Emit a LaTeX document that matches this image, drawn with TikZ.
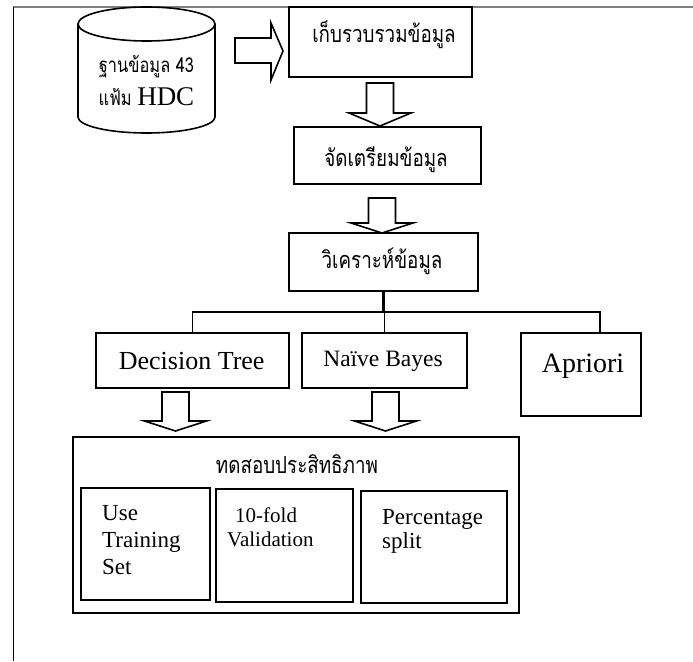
\documentclass[tikz,border=0pt]{standalone}
\usepackage{fontspec}
\setmainfont{Liberation Serif}
\newfontfamily\thaifont[Script=Thai, FakeStretch=0.8]{Loma}
\newcommand{\HollowDown}[4]{%
  \draw[blockarrow] ({#1-13.5},#2) -- ({#1+13.5},#2) -- ({#1+13.5},#3) -- ({#1+31},#3)
     -- (#1,#4) -- ({#1-31},#3) -- ({#1-13.5},#3) -- cycle;}
\begin{document}
\begin{tikzpicture}[x=1pt,y=-1pt,
  box/.style={draw, line width=1.6pt, inner sep=0pt},
  blockarrow/.style={draw, line width=1.6pt, line join=miter},
  link/.style={draw, line width=1.5pt},
  th/.style={font=\thaifont\fontsize{23.5}{26}\selectfont, inner sep=0pt, anchor=base},
  thdb/.style={font=\thaifont\fontsize{20.5}{24}\selectfont, inner sep=0pt, anchor=base},
  lat/.style={inner sep=0pt, anchor=base},
  ]
\useasboundingbox (0,0) rectangle (693,661);
% frame
\draw[gray, line width=1.2pt] (13,7) -- (693,7);
\draw[line width=0.8pt] (13,7) -- (13,661);

% database cylinder
\draw[line width=1.6pt] (146.5,24) ellipse [x radius=68.5, y radius=17];
\draw[line width=1.6pt] (78,24) -- (78,117)
   .. controls (78,125.84) and (108.67,133) .. (146.5,133)
   .. controls (184.33,133) and (215,125.84) .. (215,117) -- (215,24);
\node[thdb] (dbA) at (146.5,72) {ฐานข้อมูล 43};
\node[thdb] (dbB) at (146.5,105) {แฟ้ม {\rmfamily\fontsize{27}{30}\selectfont HDC}};

% right hollow arrow
\draw[blockarrow] (235,38) -- (271,38) -- (271,23) -- (283,51) -- (271,80) -- (271,63) -- (235,63) -- cycle;

% process boxes
\node[box, minimum width=183pt, minimum height=70pt] (box1) at (380.5,42) {};
\node[th] (box1t) at (384,43) {เก็บรวบรวมข้อมูล};
\HollowDown{380}{83}{113}{126}
\node[box, minimum width=187pt, minimum height=57pt] (box2) at (387.5,155.5) {};
\node[th] (box2t) at (386,166.5) {จัดเตรียมข้อมูล};
\HollowDown{382}{198}{223}{233}
\node[box, minimum width=189pt, minimum height=58pt] (box3) at (383.5,262) {};
\node[th] (box3t) at (382,268) {วิเคราะห์ข้อมูล};

% algorithms
\node[box, minimum width=193pt, minimum height=55pt] (dt) at (192.5,360.5) {};
\node[lat, font=\fontsize{26}{28}\selectfont] (dtt) at (191.7,369) {Decision Tree};
\node[box, minimum width=165pt, minimum height=55pt] (nb) at (384.5,360.5) {};
\node[lat, font=\fontsize{23.5}{26}\selectfont] (nbt) at (383,366.7) {Naïve Bayes};
\node[box, minimum width=120pt, minimum height=83pt] (ap) at (581,374.5) {};
\node[lat, font=\fontsize{28}{30}\selectfont] (apt) at (583,372) {Apriori};

\coordinate (barL) at (193,312);
\coordinate (barR) at (600,312);
\draw[line width=3.5pt] (box3.south) -- (box3.south |- barL);
\draw[link] (dt.north) -- (dt.north |- barL) -- (barR) -- (barR |- ap.north);
\draw[link] (nb.north |- barL) -- (nb.north);

\HollowDown{175.5}{392}{421}{431}
\HollowDown{385.5}{392}{421}{431}

% evaluation
\node[box, minimum width=446pt, minimum height=176pt] (test) at (296,525) {};
\node[th] (testt) at (297,473) {ทดสอบประสิทธิภาพ};
\node[box, minimum width=129pt, minimum height=112pt] (uts) at (145.5,544) {};
\node[inner sep=0pt, anchor=north west, align=left, font=\fontsize{23}{27}\selectfont] (utst) at (102,505) {Use\\Training\\Set};
\node[box, minimum width=137pt, minimum height=113pt] (tenf) at (284.5,545.5) {};
\node[inner sep=0pt, anchor=north west, align=left, font=\fontsize{21}{24}\selectfont] (tenft) at (227,508) {\hspace*{8pt}10-fold\\Validation};
\node[box, minimum width=146pt, minimum height=112pt] (pct) at (434,547) {};
\node[inner sep=0pt, anchor=north west, align=left, font=\fontsize{23}{24}\selectfont] (pctt) at (382,509) {Percentage\\split};
\end{tikzpicture}
\end{document}
